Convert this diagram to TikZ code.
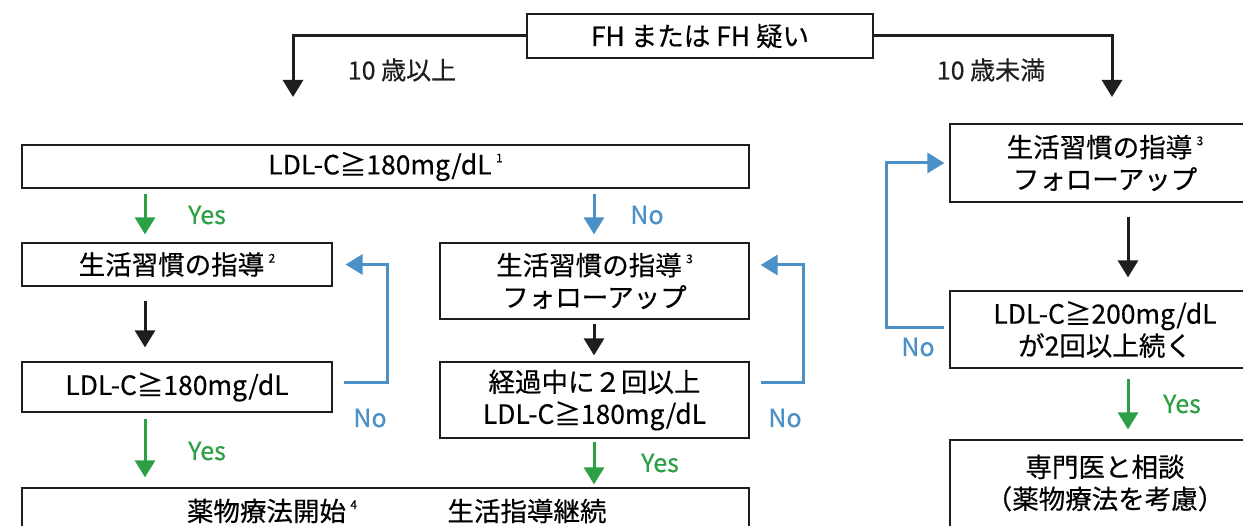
\documentclass[tikz,border=0pt]{standalone}
\usepackage{fontspec}
\setmainfont{Noto Sans CJK JP}[FakeBold=0.4]
\usetikzlibrary{arrows.meta}
\definecolor{grn}{RGB}{45,160,70}
\definecolor{blu}{RGB}{75,145,200}
\definecolor{blk}{RGB}{30,30,30}
\newcommand{\supnum}[1]{\,{\fontsize{12}{12}\selectfont\raisebox{12pt}{#1}}}
\begin{document}
\begin{tikzpicture}[x=1pt,y=-1pt,
  box/.style={draw=blk, line width=1.2pt, inner sep=0pt, align=center,
    font=\fontsize{26.5}{32}\selectfont},
  conn/.style={line width=3pt, -{Triangle[width=20pt,length=17pt]}},
  lab/.style={inner sep=0pt, font=\fontsize{25}{25}\selectfont}]
\useasboundingbox (0,0) rectangle (1243,526);
\clip (0,0) rectangle (1243,526);
\fill[white] (0,0) rectangle (1243,526);

% boxes
\node[box, minimum width=346pt, minimum height=44pt] (T) at (700,36) {FH または FH 疑い};
\node[box, minimum width=727pt, minimum height=43pt] (L1) at (385.5,166.5) {LDL-C≧180mg/dL\supnum{1}};
\node[box, minimum width=310pt, minimum height=43pt] (B2) at (177,264.5) {生活習慣の指導\supnum{2}};
\node[box, minimum width=310pt, minimum height=50pt] (B3) at (177,387) {LDL-C≧180mg/dL};
\node[box, minimum width=727pt, minimum height=70pt] (B4) at (385.5,523) {};
\node[inner sep=0pt, font=\fontsize{26.5}{32}\selectfont] (B4a) at (272,511) {薬物療法開始\supnum{4}};
\node[inner sep=0pt, font=\fontsize{26.5}{32}\selectfont] (B4b) at (527,511) {生活指導継続};
\node[box, minimum width=309pt, minimum height=76pt] (M1) at (594.5,281) {生活習慣の指導\supnum{3}\\フォローアップ};
\node[box, minimum width=309pt, minimum height=76pt] (M2) at (594.5,400) {経過中に２回以上\\LDL-C≧180mg/dL};
\node[box, minimum width=310pt, minimum height=78pt] (R1) at (1105,163) {生活習慣の指導\supnum{3}\\フォローアップ};
\node[box, minimum width=310pt, minimum height=77pt] (R2) at (1105,329.5) {LDL-C≧200mg/dL\\が2回以上続く};
\node[box, minimum width=310pt, minimum height=120pt] (R3) at (1105,500) {};
\node[inner sep=0pt, align=center, font=\fontsize{26.5}{32}\selectfont] (R3t) at (1105,483) {専門医と相談\\（薬物療法を考慮）};

% helper coordinates
\coordinate (xl) at (145,0);
\coordinate (xm) at (594,0);
\coordinate (xr) at (1128,0);
\coordinate (tl) at (293,97);
\coordinate (tr) at (1112,97);

% top split
\draw[conn, blk] (T.west) -| (tl);
\draw[conn, blk] (T.east) -| (tr);
\node[lab, blk] (age1) at (402,70) {10 歳以上};
\node[lab, blk] (age2) at (991,70) {10 歳未満};

% left column
\draw[conn, grn, shorten <=5pt, shorten >=8pt] (L1.south -| xl) -- (B2.north -| xl);
\node[lab, grn] (y1) at (207,215) {Yes};
\draw[conn, blk, shorten <=14pt, shorten >=14pt] (B2.south -| xl) -- (B3.north -| xl);
\draw[conn, grn, shorten <=6pt, shorten >=10pt] (B3.south -| xl) -- (B4.north -| xl);
\node[lab, grn] (y2) at (207,451) {Yes};
\draw[conn, blu] ([xshift=11pt,yshift=4pt]B3.east) -| ([xshift=55pt]B2.east) -- ([xshift=13pt]B2.east);
\node[lab, blu] (n2) at (370,418) {No};

% middle column
\draw[conn, blu, shorten <=5pt, shorten >=8pt] (L1.south -| xm) -- (M1.north -| xm);
\node[lab, blu] (n1) at (647,215) {No};
\draw[conn, blk, shorten <=4pt, shorten >=6pt] (M1.south -| xm) -- (M2.north -| xm);
\draw[conn, grn, shorten <=3pt, shorten >=3pt] (M2.south -| xm) -- (B4.north -| xm);
\node[lab, grn] (y3) at (660,463) {Yes};
\draw[conn, blu] ([xshift=11pt,yshift=17pt]M2.east) -| ([xshift=54pt,yshift=16pt]M1.east) -- ([xshift=11pt,yshift=16pt]M1.east);
\node[lab, blu] (n3) at (785,418) {No};

% right column
\draw[conn, blk, shorten <=14pt, shorten >=13pt] (R1.south -| xr) -- (R2.north -| xr);
\draw[conn, grn, shorten <=10pt, shorten >=10pt] (R2.south -| xr) -- (R3.north -| xr);
\node[lab, grn] (y4) at (1182,404) {Yes};
\draw[conn, blu] ([xshift=-5pt,yshift=2pt]R2.west) -| ([xshift=-63pt]R1.west) -- ([xshift=-5pt]R1.west);
\node[lab, blu] (n4) at (918,347) {No};
\end{tikzpicture}
\end{document}
